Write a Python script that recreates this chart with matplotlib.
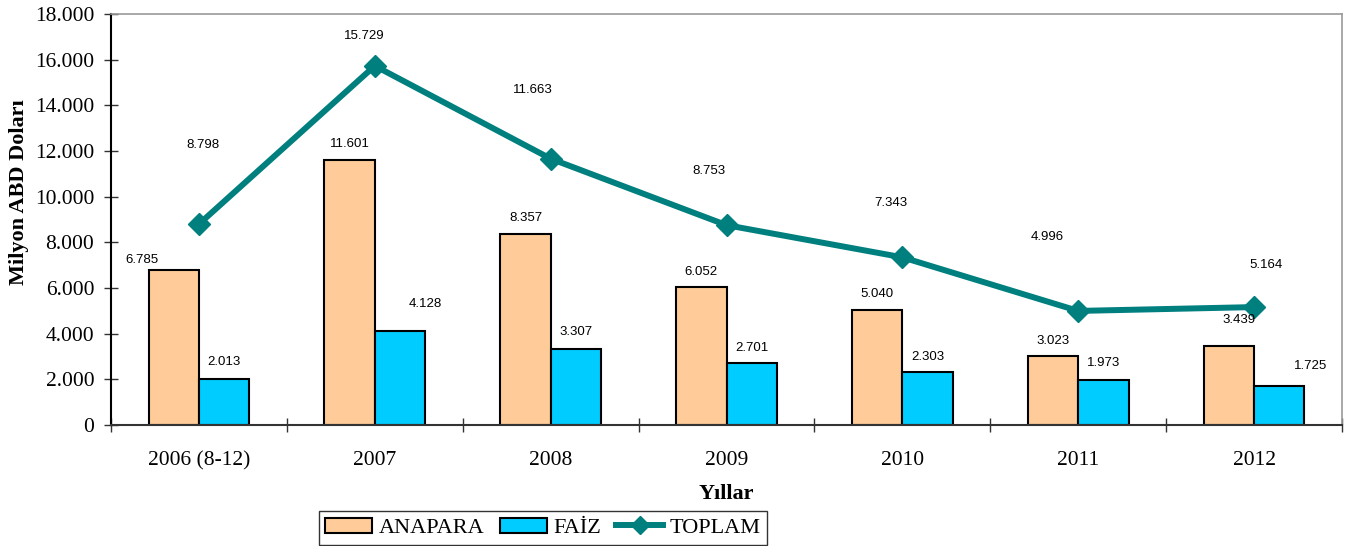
import numpy as np
import matplotlib
matplotlib.use('Agg')
from matplotlib import pyplot as plt
from matplotlib.lines import Line2D
from matplotlib.patches import Patch

years = ['2006 (8-12)', '2007', '2008', '2009', '2010', '2011', '2012']
anapara = [6785, 11601, 8357, 6052, 5040, 3023, 3439]
faiz = [2013, 4128, 3307, 2701, 2303, 1973, 1725]
toplam = [8798, 15729, 11663, 8753, 7343, 4996, 5164]

# label offsets in pixels (dx, dy) from the bar top / marker
off_anapara = [(-32, 10), (0, 16), (0, 16), (0, 15), (0, 16), (0, 15), (10, 26)]
off_faiz = [(0, 17), (25, 27), (0, 17), (0, 15), (0, 15), (0, 17), (31, 20)]
off_toplam = [(4, 79), (-11, 30), (-18, 69), (-18, 54), (-11, 54), (-31, 74), (12, 42)]

c_anapara = '#FFCC99'
c_faiz = '#00CCFF'
c_toplam = '#007F7F'

def fmt(v):
    return '{:,}'.format(v).replace(',', '.')

dpi = 100
fig = plt.figure(figsize=(13.57, 5.46), dpi=dpi)
ax = fig.add_axes([111/1357, 1-425/546, (1342-111)/1357, (425-14)/546])

x = np.arange(len(years))
w = 0.286
ax.bar(x - w/2, anapara, w, color=c_anapara, edgecolor='black', linewidth=1.5, zorder=2)
ax.bar(x + w/2, faiz, w, color=c_faiz, edgecolor='black', linewidth=1.5, zorder=2)
ax.plot(x, toplam, color=c_toplam, lw=4.3, marker='D', markersize=11, zorder=3)

px = 72.0 / dpi
lab = dict(textcoords='offset points', ha='center', va='center',
           fontsize=9.5, family='Liberation Sans', color='black', zorder=4)
for i in range(len(years)):
    ax.annotate(fmt(anapara[i]), (x[i] - w/2, anapara[i]),
                xytext=(off_anapara[i][0]*px, off_anapara[i][1]*px), **lab)
    ax.annotate(fmt(faiz[i]), (x[i] + w/2, faiz[i]),
                xytext=(off_faiz[i][0]*px, off_faiz[i][1]*px), **lab)
    ax.annotate(fmt(toplam[i]), (x[i], toplam[i]),
                xytext=(off_toplam[i][0]*px, off_toplam[i][1]*px), **lab)

ax.set_xlim(-0.5, len(years) - 0.5)
ax.set_ylim(0, 18000)
yt = np.arange(0, 18001, 2000)
ax.set_yticks(yt)
ax.set_yticklabels([fmt(v) for v in yt], family='Liberation Serif', fontsize=15.5)
ax.set_xticks(x)
ax.set_xticklabels(years, family='Liberation Serif', fontsize=15.5)
ax.set_xticks(np.arange(-0.5, len(years), 1), minor=True)
ax.tick_params(axis='x', which='major', length=0, pad=19)
ax.tick_params(axis='x', which='minor', direction='inout', length=10, width=1, color='#333333')
ax.tick_params(axis='y', direction='inout', length=10, width=1, color='#333333', pad=7)

for s in ['top', 'right']:
    ax.spines[s].set_color('#999999')
    ax.spines[s].set_linewidth(1.2)
ax.spines['left'].set_color('black')
ax.spines['left'].set_linewidth(1.5)
ax.spines['bottom'].set_color('#333333')
ax.spines['bottom'].set_linewidth(1.5)

ax.set_ylabel('Milyon ABD Doları', family='Liberation Serif', fontweight='bold', fontsize=16)
ax.yaxis.set_label_coords((29-111)/1231, (425-192)/411)
fig.text((111+1342)/2/1357, 1-494/546, 'Yıllar', family='Liberation Serif',
         fontweight='bold', fontsize=16, ha='center', va='center')

handles = [Patch(facecolor=c_anapara, edgecolor='black', linewidth=1.5),
           Patch(facecolor=c_faiz, edgecolor='black', linewidth=1.5),
           Line2D([], [], color=c_toplam, lw=4.3, marker='D', markersize=9)]
leg = fig.legend(handles, ['ANAPARA', 'FAİZ', 'TOPLAM'], loc='upper center',
                 bbox_to_anchor=(543/1357, 1-511/546), ncol=3, frameon=True,
                 fancybox=False, edgecolor='black', handlelength=2.1, handletextpad=0.3,
                 columnspacing=0.7, borderaxespad=0, borderpad=0.3,
                 prop={'family': 'Liberation Serif', 'size': 16})
leg.get_frame().set_linewidth(1.0)

fig.savefig('out.png', dpi=dpi)
